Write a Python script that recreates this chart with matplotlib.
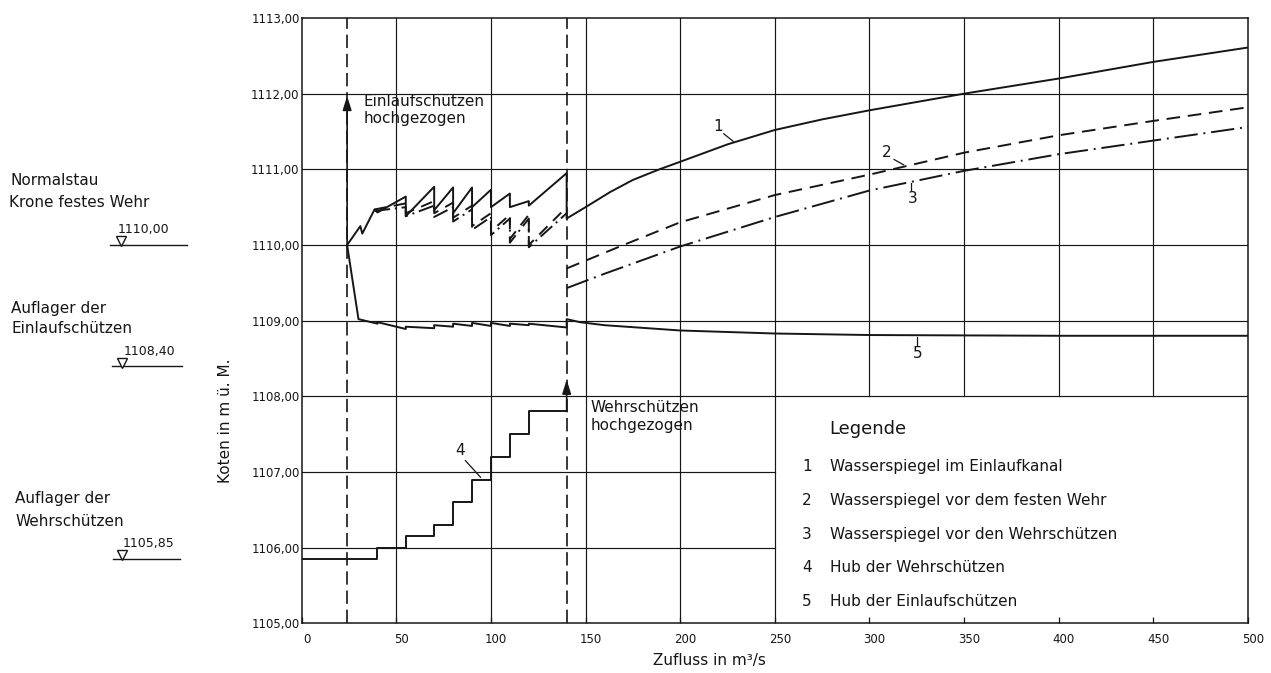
import matplotlib
matplotlib.use("Agg")
import matplotlib.pyplot as plt
from matplotlib.transforms import blended_transform_factory, ScaledTranslation

# ---------------- data ----------------
x_ticks = [0, 50, 100, 150, 200, 250, 300, 350, 400, 450, 500]
x_tick_labels = ["0", "50", "100", "150", "200", "250", "300", "350", "400", "450", "500"]
y_ticks = [1105, 1106, 1107, 1108, 1109, 1110, 1111, 1112, 1113]
y_tick_labels = ["1105,00", "1106,00", "1107,00", "1108,00", "1109,00",
                 "1110,00", "1111,00", "1112,00", "1113,00"]

q_einlauf_open = 24      # Einlaufschützen hochgezogen
q_wehr_open = 140        # Wehrschützen hochgezogen

# 1 Wasserspiegel im Einlaufkanal
q1 = [24, 31, 32, 38.5, 40, 55, 55, 70, 70, 80, 80, 90, 90, 100, 100, 110, 110,
      120, 120, 140, 140, 150, 163, 175, 189, 200, 225, 250, 275, 300, 350, 400, 450, 500]
h1 = [1110.00, 1110.25, 1110.15, 1110.47, 1110.43, 1110.64, 1110.38, 1110.77, 1110.46,
      1110.76, 1110.42, 1110.76, 1110.50, 1110.73, 1110.50, 1110.68, 1110.50,
      1110.58, 1110.52, 1110.95, 1110.35, 1110.50, 1110.70, 1110.86, 1111.00,
      1111.10, 1111.33, 1111.52, 1111.66, 1111.78, 1112.00, 1112.20, 1112.42, 1112.61]

# 2 Wasserspiegel vor dem festen Wehr
q2a = [38.5, 55, 55, 70, 70, 80, 80, 90, 90, 100, 100, 110, 110, 120, 120, 140]
h2a = [1110.47, 1110.55, 1110.42, 1110.58, 1110.42, 1110.56, 1110.36, 1110.52, 1110.25,
       1110.42, 1110.18, 1110.40, 1110.08, 1110.40, 1110.00, 1110.50]
q2b = [140, 170, 200, 250, 300, 350, 400, 450, 500]
h2b = [1109.69, 1110.00, 1110.30, 1110.66, 1110.93, 1111.22, 1111.45, 1111.64, 1111.82]

# 3 Wasserspiegel vor den Wehrschützen
q3a = [38.5, 55, 55, 70, 70, 80, 80, 90, 90, 100, 100, 110, 110, 120, 120, 140]
h3a = [1110.45, 1110.50, 1110.38, 1110.52, 1110.37, 1110.50, 1110.31, 1110.47, 1110.20,
       1110.37, 1110.13, 1110.35, 1110.03, 1110.35, 1109.97, 1110.42]
q3b = [140, 160, 200, 250, 300, 350, 400, 450, 500]
h3b = [1109.43, 1109.62, 1109.98, 1110.37, 1110.72, 1110.98, 1111.20, 1111.38, 1111.56]

# 4 Hub der Wehrschützen (Treppe)
q4 = [0, 40, 55, 70, 80, 90, 100, 110, 120, 140]
h4 = [1105.85, 1106.00, 1106.15, 1106.30, 1106.60, 1106.90, 1107.20, 1107.50, 1107.80, 1107.80]

# 5 Hub der Einlaufschützen
q5 = [24, 30, 40, 40, 55, 55, 70, 70, 80, 80, 90, 90, 100, 100, 110, 110, 120, 120,
      140, 140, 147, 160, 200, 250, 300, 400, 500]
h5 = [1110.00, 1109.02, 1108.96, 1108.98, 1108.89, 1108.92, 1108.90, 1108.94, 1108.92,
      1108.96, 1108.93, 1108.97, 1108.93, 1108.97, 1108.93, 1108.96, 1108.94, 1108.96,
      1108.91, 1109.02, 1108.98, 1108.94, 1108.87, 1108.83, 1108.81, 1108.80, 1108.80]

ref_levels = [1110.00, 1108.40, 1105.85]
ref_level_labels = ["1110,00", "1108,40", "1105,85"]
ref_texts = [("Normalstau", "Krone festes Wehr"),
             ("Auflager der", "Einlaufschützen"),
             ("Auflager der", "Wehrschützen")]

legend_title = "Legende"
legend_entries = ["Wasserspiegel im Einlaufkanal",
                  "Wasserspiegel vor dem festen Wehr",
                  "Wasserspiegel vor den Wehrschützen",
                  "Hub der Wehrschützen",
                  "Hub der Einlaufschützen"]

# ---------------- drawing ----------------
ink = "#161616"
W, H = 1271, 673
plt.rcParams["font.family"] = ["DejaVu Sans"]

fig = plt.figure(figsize=(W / 100, H / 100), dpi=100)
fig.patch.set_facecolor("white")


def fx(px):
    return px / W


def fy(py):
    return 1 - py / H


ax = fig.add_axes([fx(301.7), fy(623.3), (1248 - 301.7) / W, (623.3 - 18) / H])
ax.set_xlim(0, 500)
ax.set_ylim(1105, 1113)
for s in ax.spines.values():
    s.set_color(ink)
    s.set_linewidth(1.1)

# grid (left open in the legend field)
legend_q, legend_h = 250, 1108
for x in x_ticks[1:-1]:
    y0 = 1105 if x <= legend_q else legend_h
    ax.plot([x, x], [y0, 1113], color=ink, lw=0.85, zorder=1)
for y in y_ticks[1:-1]:
    x1 = 500 if y >= legend_h else legend_q
    ax.plot([0, x1], [y, y], color=ink, lw=0.85, zorder=1)

# ticks
ax.set_xticks(x_ticks)
ax.set_xticklabels(x_tick_labels)
ax.set_yticks(y_ticks)
ax.set_yticklabels(y_tick_labels)
ax.tick_params(axis="x", direction="in", length=4, width=0.9, color=ink,
               pad=7, labelsize=8.5, labelcolor=ink)
ax.tick_params(axis="y", length=0, pad=1.5, labelsize=8.5, labelcolor=ink)
off = ScaledTranslation(0.05, 0, fig.dpi_scale_trans)
for lab in ax.get_xticklabels():
    lab.set_transform(lab.get_transform() + off)

# vertical dashed lines
for q in (q_einlauf_open, q_wehr_open):
    ax.plot([q, q], [1105, 1113], color=ink, lw=1.2, ls=(0, (8, 3.5)), zorder=2)

# curves
lw = 1.4
ax.plot(q1, h1, color=ink, lw=lw, zorder=3)
ax.plot(q2a, h2a, color=ink, lw=lw, ls=(0, (6, 4)), zorder=3)
ax.plot(q2b, h2b, color=ink, lw=lw, ls=(0, (7, 4)), zorder=3)
ax.plot(q3a, h3a, color=ink, lw=lw, ls=(0, (8, 2.5, 1, 2.5)), zorder=3)
ax.plot(q3b, h3b, color=ink, lw=lw, ls=(0, (12, 3, 1, 3)), zorder=3)
ax.plot(q4, h4, color=ink, lw=lw, drawstyle="steps-post", zorder=3)
ax.plot(q5, h5, color=ink, lw=lw, zorder=3)

# arrows
arrow = dict(arrowstyle="-|>,head_length=0.7,head_width=0.22", lw=1.2, color=ink,
             mutation_scale=12, shrinkA=0, shrinkB=0)
ax.annotate("", xy=(q_einlauf_open, 1111.97), xytext=(q_einlauf_open, h1[0]),
            arrowprops=arrow, zorder=4)
ax.annotate("", xy=(q_wehr_open, 1108.22), xytext=(q_wehr_open, h4[-1]),
            arrowprops=arrow, zorder=4)

tkw = dict(color=ink, fontsize=11, va="center", ha="left")
ax.text(32.5, 1111.90, "Einlaufschützen", **tkw)
ax.text(32.5, 1111.67, "hochgezogen", **tkw)
ax.text(152.5, 1107.85, "Wehrschützen", **tkw)
ax.text(152.5, 1107.62, "hochgezogen", **tkw)

# curve labels with leaders
nkw = dict(color=ink, fontsize=11, va="center", ha="center")
ax.text(220, 1111.57, "1", **nkw)
ax.plot([223, 228], [1111.47, 1111.37], color=ink, lw=0.9)
ax.text(309, 1111.22, "2", **nkw)
ax.plot([313, 318], [1111.13, 1111.06], color=ink, lw=0.9)
ax.text(323, 1110.62, "3", **nkw)
ax.plot([322, 322], [1110.82, 1110.73], color=ink, lw=0.9)
ax.text(83.5, 1107.28, "4", **nkw)
ax.plot([86.5, 94.5], [1107.15, 1106.93], color=ink, lw=0.9)
ax.text(325.5, 1108.56, "5", **nkw)
ax.plot([325, 325], [1108.79, 1108.68], color=ink, lw=0.9)

# legend field
ax.text(279, 1107.57, legend_title, color=ink, fontsize=13, va="center", ha="left")
for i, entry in enumerate(legend_entries):
    yy = 1107.07 - i * 0.445
    ax.text(267, yy, str(i + 1), color=ink, fontsize=11, va="center", ha="center")
    ax.text(279, yy, entry, color=ink, fontsize=11, va="center", ha="left")

# axis titles
fig.text(fx(225), fy(421), "Koten in m ü. M.", rotation=90, color=ink,
         fontsize=11, va="center", ha="center")
fig.text(fx(709), fy(660), "Zufluss in m³/s", color=ink, fontsize=11,
         va="center", ha="center")

# reference levels on the left
bt = blended_transform_factory(fig.transFigure, ax.transData)
line_px = [(110, 187), (112, 182), (113, 180)]
tri_px = [121, 122.5, 122.5]
lab_px = [118, 124, 123]
text_px = [((10, 180.7), (9, 202.7)), ((11, 309), (11, 328.3)), ((15, 499), (16, 521))]
up = ScaledTranslation(0, 0.035, fig.dpi_scale_trans)
lift = ScaledTranslation(0, 0.15, fig.dpi_scale_trans)
for lvl, lab, txt, lp, tp, lb, tx in zip(ref_levels, ref_level_labels, ref_texts,
                                          line_px, tri_px, lab_px, text_px):
    ax.plot([fx(lp[0]), fx(lp[1])], [lvl, lvl], transform=bt, color=ink, lw=1.0,
            clip_on=False)
    ax.plot([fx(tp)], [lvl], transform=bt + up, marker="v", ms=6.5, mfc="white",
            mec=ink, mew=1.0, clip_on=False, zorder=5)
    ax.text(fx(lb), lvl, lab, transform=bt + lift, color=ink, fontsize=9,
            va="center", ha="left", clip_on=False)
    for line, (px, py) in zip(txt, tx):
        fig.text(fx(px), fy(py), line, color=ink, fontsize=11, va="center", ha="left")

fig.savefig("out.png", dpi=100, facecolor="white")
